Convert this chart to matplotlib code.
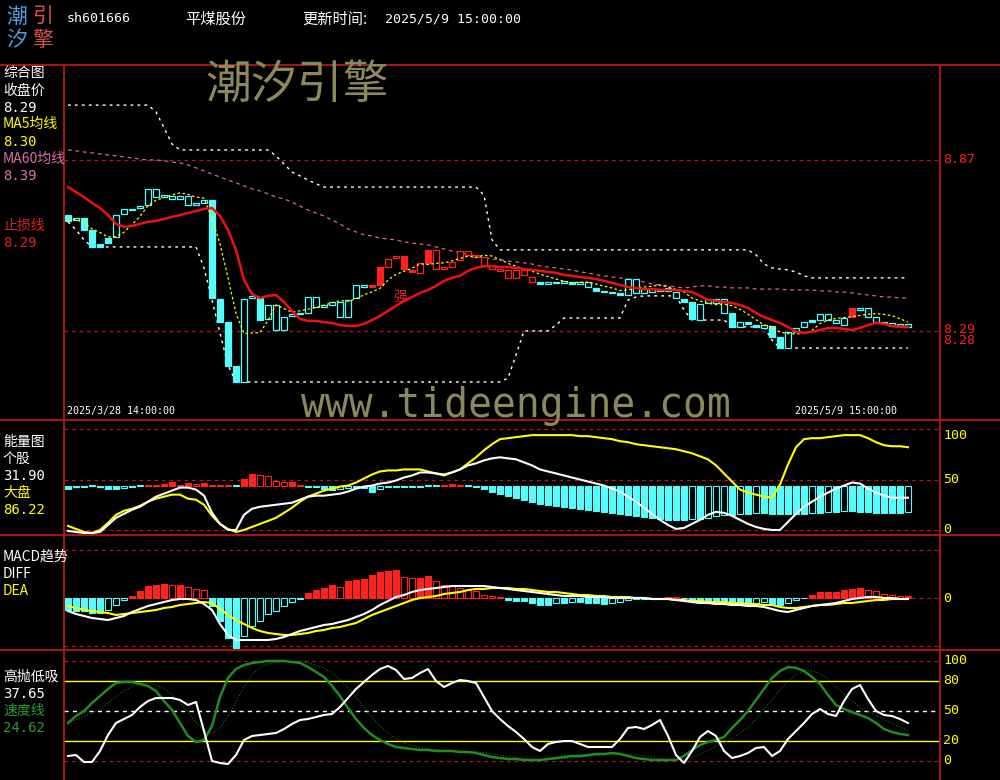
import numpy as np
import pandas as pd
import matplotlib
matplotlib.use("Agg")
import matplotlib.pyplot as plt
from matplotlib.lines import Line2D

CJK = ['Noto Sans CJK SC', 'DejaVu Sans']
MONO = ['DejaVu Sans Mono']
plt.rcParams['font.family'] = CJK

# ---------------- data ----------------
code = 'sh601666'
name = '平煤股份'
update_time = '2025/5/9 15:00:00'
start_label = '2025/3/28 14:00:00'
end_label = '2025/5/9 15:00:00'

open_ = [8.683, 8.666, 8.673, 8.633, 8.585, 8.605, 8.609, 8.687, 8.701, 8.707,
         8.717, 8.744, 8.744, 8.738, 8.738, 8.717, 8.717, 8.724, 8.734, 8.398,
         8.320, 8.171, 8.117, 8.402, 8.402, 8.331, 8.293, 8.293, 8.341, 8.348,
         8.351, 8.371, 8.371, 8.378, 8.337, 8.337, 8.402, 8.439, 8.446, 8.507,
         8.507, 8.538, 8.544, 8.497, 8.487, 8.565, 8.500, 8.500, 8.507, 8.531,
         8.548, 8.541, 8.510, 8.500, 8.494, 8.470, 8.470, 8.480, 8.456, 8.456,
         8.449, 8.453, 8.453, 8.456, 8.449, 8.439, 8.436, 8.426, 8.422, 8.419,
         8.412, 8.419, 8.419, 8.422, 8.426, 8.426, 8.402, 8.398, 8.388, 8.327,
         8.385, 8.385, 8.351, 8.351, 8.304, 8.320, 8.310, 8.300, 8.307, 8.270,
         8.232, 8.287, 8.304, 8.327, 8.327, 8.327, 8.317, 8.310, 8.368, 8.361,
         8.337, 8.320, 8.317, 8.307, 8.307, 8.304]
close = [8.663, 8.673, 8.633, 8.575, 8.575, 8.588, 8.683, 8.704, 8.704, 8.714,
         8.772, 8.772, 8.751, 8.748, 8.748, 8.748, 8.724, 8.734, 8.402, 8.320,
         8.171, 8.117, 8.398, 8.409, 8.327, 8.378, 8.378, 8.337, 8.348, 8.351,
         8.405, 8.405, 8.378, 8.388, 8.388, 8.395, 8.446, 8.446, 8.439, 8.446,
         8.534, 8.544, 8.500, 8.490, 8.521, 8.521, 8.565, 8.507, 8.524, 8.561,
         8.561, 8.548, 8.541, 8.510, 8.500, 8.497, 8.497, 8.497, 8.473, 8.449,
         8.456, 8.456, 8.459, 8.449, 8.456, 8.456, 8.426, 8.422, 8.419, 8.412,
         8.466, 8.466, 8.432, 8.432, 8.432, 8.436, 8.422, 8.388, 8.331, 8.381,
         8.398, 8.398, 8.398, 8.304, 8.320, 8.314, 8.304, 8.310, 8.270, 8.232,
         8.287, 8.300, 8.320, 8.320, 8.348, 8.348, 8.327, 8.334, 8.337, 8.368,
         8.368, 8.337, 8.320, 8.317, 8.314, 8.314]
# 1 = strong (red) state, 0 = normal (cyan)
strong = [0] * 38 + [1] * 21 + [0] * 39 + [1] + [0] * 7

stop_line = [8.778, 8.761, 8.744, 8.724, 8.707, 8.683, 8.653, 8.643, 8.646, 8.653,
             8.660, 8.663, 8.670, 8.677, 8.683, 8.690, 8.697, 8.704, 8.707, 8.680,
             8.633, 8.565, 8.463, 8.415, 8.402, 8.409, 8.412, 8.388, 8.358, 8.331,
             8.324, 8.324, 8.320, 8.317, 8.310, 8.307, 8.307, 8.314, 8.327, 8.341,
             8.358, 8.375, 8.392, 8.405, 8.419, 8.429, 8.443, 8.460, 8.470, 8.477,
             8.494, 8.504, 8.510, 8.510, 8.507, 8.507, 8.504, 8.500, 8.497, 8.494,
             8.490, 8.487, 8.480, 8.477, 8.473, 8.470, 8.466, 8.460, 8.453, 8.446,
             8.439, 8.436, 8.432, 8.432, 8.429, 8.429, 8.429, 8.426, 8.422, 8.409,
             8.395, 8.392, 8.388, 8.385, 8.378, 8.368, 8.351, 8.337, 8.327, 8.317,
             8.304, 8.287, 8.283, 8.287, 8.293, 8.300, 8.300, 8.297, 8.293, 8.300,
             8.310, 8.317, 8.314, 8.307, 8.304, 8.304]
ma60 = [8.904, 8.901, 8.897, 8.894, 8.890, 8.887, 8.884, 8.880, 8.877, 8.873,
        8.870, 8.870, 8.867, 8.863, 8.860, 8.853, 8.843, 8.833, 8.822, 8.812,
        8.802, 8.792, 8.782, 8.772, 8.765, 8.755, 8.744, 8.738, 8.727, 8.714,
        8.700, 8.690, 8.680, 8.666, 8.653, 8.636, 8.626, 8.616, 8.612, 8.605,
        8.602, 8.599, 8.592, 8.588, 8.585, 8.582, 8.575, 8.568, 8.561, 8.555,
        8.551, 8.544, 8.538, 8.534, 8.531, 8.527, 8.524, 8.521, 8.517, 8.510,
        8.507, 8.504, 8.500, 8.497, 8.490, 8.487, 8.480, 8.477, 8.473, 8.470,
        8.466, 8.463, 8.456, 8.449, 8.446, 8.443, 8.439, 8.436, 8.439, 8.443,
        8.443, 8.439, 8.439, 8.436, 8.436, 8.436, 8.432, 8.432, 8.432, 8.432,
        8.429, 8.429, 8.429, 8.429, 8.426, 8.426, 8.422, 8.422, 8.419, 8.415,
        8.412, 8.409, 8.405, 8.405, 8.402, 8.402]
band_upper = [9.056, 9.056, 9.056, 9.056, 9.056, 9.056, 9.056, 9.056, 9.056, 9.056,
              9.056, 9.033, 8.979, 8.924, 8.904, 8.904, 8.904, 8.904, 8.904, 8.904,
              8.904, 8.904, 8.904, 8.904, 8.904, 8.904, 8.884, 8.856, 8.829, 8.816,
              8.802, 8.789, 8.778, 8.778, 8.778, 8.778, 8.778, 8.778, 8.778, 8.778,
              8.778, 8.778, 8.778, 8.778, 8.778, 8.778, 8.778, 8.778, 8.778, 8.778,
              8.778, 8.778, 8.751, 8.599, 8.565, 8.565, 8.565, 8.565, 8.565, 8.565,
              8.565, 8.565, 8.565, 8.565, 8.565, 8.565, 8.565, 8.565, 8.565, 8.565,
              8.565, 8.565, 8.565, 8.565, 8.565, 8.565, 8.565, 8.565, 8.565, 8.565,
              8.565, 8.565, 8.565, 8.565, 8.565, 8.565, 8.548, 8.517, 8.504, 8.500,
              8.497, 8.490, 8.477, 8.470, 8.470, 8.470, 8.470, 8.470, 8.470, 8.470,
              8.470, 8.470, 8.470, 8.470, 8.470, 8.470]
band_lower = [8.660, 8.633, 8.599, 8.575, 8.575, 8.575, 8.575, 8.575, 8.575, 8.575,
              8.575, 8.575, 8.575, 8.575, 8.575, 8.575, 8.575, 8.504, 8.395, 8.283,
              8.174, 8.117, 8.117, 8.117, 8.117, 8.117, 8.117, 8.117, 8.117, 8.117,
              8.117, 8.117, 8.117, 8.117, 8.117, 8.117, 8.117, 8.117, 8.117, 8.117,
              8.117, 8.117, 8.117, 8.117, 8.117, 8.117, 8.117, 8.117, 8.117, 8.117,
              8.117, 8.117, 8.117, 8.117, 8.117, 8.130, 8.208, 8.290, 8.290, 8.290,
              8.290, 8.310, 8.334, 8.334, 8.334, 8.334, 8.334, 8.334, 8.334, 8.334,
              8.395, 8.405, 8.409, 8.409, 8.409, 8.409, 8.409, 8.361, 8.327, 8.327,
              8.327, 8.327, 8.327, 8.307, 8.304, 8.304, 8.304, 8.304, 8.259, 8.232,
              8.232, 8.232, 8.232, 8.232, 8.232, 8.232, 8.232, 8.232, 8.232, 8.232,
              8.232, 8.232, 8.232, 8.232, 8.232, 8.232]
price_levels = [8.87, 8.29]
low_label = '8.28'
strong_mark_pos = (41.5, 8.405)

# legend read-outs shown at the left
close_value = '8.29'
ma5_value = '8.30'
ma60_value = '8.39'
stop_value = '8.29'
stock_value = '31.90'
market_value = '86.22'
hp_value = '37.65'
speed_value = '24.62'

energy_stock = [-1, -2, -3, -3, -2, 5, 12, 16, 20, 23,
                28, 33, 36, 39, 42, 42, 40, 34, 17, 6,
                0, 0, 15, 21, 23, 24, 25, 26, 27, 30,
                33, 34, 34, 35, 36, 38, 41, 43, 44, 46,
                47, 49, 52, 54, 57, 57, 56, 55, 57, 60,
                64, 66, 69, 71, 72, 71, 70, 67, 64, 60,
                58, 56, 54, 52, 50, 48, 46, 44, 41, 38,
                33, 28, 22, 16, 10, 5, 1, 2, 6, 10,
                15, 18, 17, 14, 10, 6, 3, 1, 0, 0,
                8, 16, 23, 28, 33, 37, 41, 44, 47, 46,
                41, 37, 34, 32, 32, 32]
energy_market = [4, 1, -2, -3, 0, 7, 15, 19, 21, 24,
                 28, 31, 33, 35, 35, 31, 30, 25, 14, 6,
                 1, -2, 0, 3, 6, 9, 12, 17, 22, 28,
                 33, 36, 39, 41, 43, 44, 47, 51, 55, 58,
                 59, 59, 60, 60, 60, 58, 56, 54, 57, 60,
                 66, 72, 79, 85, 90, 91, 92, 93, 94, 94,
                 94, 94, 94, 94, 93, 93, 92, 91, 90, 88,
                 87, 85, 84, 83, 82, 81, 80, 78, 76, 73,
                 70, 64, 56, 48, 40, 37, 35, 33, 32, 45,
                 65, 82, 90, 91, 91, 92, 93, 94, 94, 94,
                 91, 87, 84, 83, 83, 82]
energy_hist = [-3, -1, -1, 0, -1, -3, -3, -2, -1, 0,
               1, 1, 2, 4, 1, 3, 2, 3, 1, 1,
               1, 0, 7, 11, 10, 9, 5, 4, 4, 1,
               -1, -1, -3, -4, -3, -2, -2, -2, -6, -3,
               -1, -1, -1, -1, -1, 0, 0, 1, 2, 1,
               0, -1, -3, -6, -8, -10, -12, -14, -16, -18,
               -19, -20, -21, -22, -23, -24, -25, -26, -27, -28,
               -29, -30, -31, -32, -33, -34, -34, -34, -33, -33,
               -32, -30, -29, -29, -28, -28, -27, -27, -28, -28,
               -28, -28, -28, -27, -27, -26, -26, -25, -25, -26,
               -26, -27, -27, -27, -27, -26]
energy_hist_base = 44
energy_levels = [100, 50, 0]

macd_diff = [-0.026, -0.032, -0.036, -0.040, -0.042, -0.044, -0.040, -0.036, -0.028, -0.022,
             -0.016, -0.012, -0.008, -0.004, -0.002, -0.002, -0.004, -0.012, -0.024, -0.052,
             -0.074, -0.084, -0.084, -0.084, -0.084, -0.084, -0.082, -0.078, -0.072, -0.066,
             -0.062, -0.058, -0.054, -0.052, -0.048, -0.044, -0.038, -0.032, -0.024, -0.014,
             -0.006, 0.002, 0.006, 0.012, 0.016, 0.018, 0.020, 0.022, 0.024, 0.024,
             0.024, 0.024, 0.024, 0.022, 0.020, 0.018, 0.016, 0.014, 0.012, 0.010,
             0.008, 0.006, 0.004, 0.004, 0.004, 0.002, 0.002, 0.002, 0.000, 0.000,
             0.000, 0.000, 0.000, -0.002, -0.002, -0.002, -0.004, -0.006, -0.008, -0.010,
             -0.010, -0.012, -0.012, -0.014, -0.014, -0.016, -0.016, -0.018, -0.022, -0.026,
             -0.028, -0.024, -0.020, -0.016, -0.014, -0.012, -0.010, -0.006, -0.002, 0.000,
             0.002, 0.002, 0.000, 0.000, -0.002, -0.002]
macd_dea = [-0.016, -0.020, -0.024, -0.026, -0.028, -0.030, -0.034, -0.032, -0.030, -0.028,
            -0.026, -0.024, -0.020, -0.018, -0.014, -0.012, -0.010, -0.008, -0.010, -0.022,
            -0.034, -0.044, -0.052, -0.060, -0.066, -0.070, -0.072, -0.074, -0.074, -0.072,
            -0.070, -0.066, -0.064, -0.060, -0.058, -0.054, -0.050, -0.042, -0.034, -0.028,
            -0.022, -0.016, -0.010, -0.004, 0.000, 0.002, 0.004, 0.008, 0.010, 0.012,
            0.016, 0.018, 0.018, 0.020, 0.020, 0.020, 0.018, 0.018, 0.016, 0.014,
            0.012, 0.012, 0.010, 0.008, 0.006, 0.006, 0.004, 0.004, 0.002, 0.002,
            0.002, 0.000, 0.000, -0.002, -0.002, -0.002, -0.004, -0.004, -0.006, -0.006,
            -0.008, -0.008, -0.008, -0.010, -0.010, -0.012, -0.012, -0.014, -0.014, -0.018,
            -0.020, -0.020, -0.018, -0.016, -0.014, -0.014, -0.012, -0.010, -0.010, -0.008,
            -0.006, -0.004, -0.004, -0.002, -0.002, -0.002]
macd_hist = [-0.024, -0.026, -0.026, -0.030, -0.030, -0.024, -0.014, -0.004, 0.004, 0.014,
             0.024, 0.026, 0.028, 0.026, 0.026, 0.022, 0.018, 0.016, -0.016, -0.046,
             -0.080, -0.100, -0.076, -0.056, -0.046, -0.032, -0.026, -0.016, -0.008, -0.002,
             0.010, 0.016, 0.020, 0.026, 0.022, 0.034, 0.036, 0.038, 0.046, 0.052,
             0.054, 0.056, 0.042, 0.040, 0.040, 0.044, 0.034, 0.026, 0.024, 0.020,
             0.016, 0.014, 0.006, 0.004, 0.002, -0.004, -0.006, -0.006, -0.010, -0.014,
             -0.014, -0.010, -0.010, -0.008, -0.008, -0.010, -0.010, -0.012, -0.010, -0.008,
             -0.004, -0.002, -0.002, 0.000, 0.000, 0.002, 0.002, 0.000, -0.004, -0.006,
             -0.008, -0.008, -0.010, -0.010, -0.012, -0.012, -0.010, -0.008, -0.012, -0.014,
             -0.010, -0.004, 0.000, 0.006, 0.012, 0.012, 0.012, 0.016, 0.018, 0.020,
             0.016, 0.014, 0.008, 0.006, 0.004, 0.004]
macd_levels = [0.096, 0.0, -0.096]

hp_line = [5, 6, -1, -1, 10, 26, 38, 42, 46, 54,
           60, 63, 63, 63, 61, 56, 59, 30, 0, -2,
           -3, 6, 21, 25, 26, 27, 28, 32, 37, 41,
           42, 44, 46, 47, 54, 63, 72, 79, 86, 92,
           95, 91, 82, 83, 88, 92, 80, 74, 78, 81,
           80, 78, 64, 50, 42, 35, 29, 22, 14, 10,
           17, 19, 20, 20, 17, 14, 14, 14, 14, 22,
           33, 34, 32, 36, 41, 25, 6, -2, 10, 24,
           30, 25, 10, 3, 5, 8, 13, 14, 5, 10,
           22, 30, 38, 47, 52, 47, 45, 60, 72, 76,
           62, 50, 46, 45, 42, 38]
speed_line = [38, 45, 50, 58, 65, 72, 78, 79, 79, 77,
              75, 70, 60, 51, 38, 25, 19, 21, 35, 64,
              83, 92, 96, 98, 99, 100, 100, 100, 99, 98,
              94, 89, 84, 75, 65, 53, 42, 33, 26, 21,
              17, 14, 13, 12, 11, 11, 10, 10, 10, 9,
              9, 8, 6, 4, 3, 2, 2, 1, 1, 1,
              2, 3, 4, 5, 5, 6, 7, 7, 8, 7,
              5, 3, 2, 1, 1, 1, 1, 5, 11, 16,
              19, 21, 24, 33, 41, 50, 61, 72, 83, 90,
              94, 93, 90, 84, 77, 66, 56, 52, 49, 46,
              43, 38, 32, 29, 27, 26]
hp_red_levels = [100, 0]
hp_yellow_levels = [80, 20]
hp_mid_level = 50

# ---------------- style ----------------
BG = 'black'
CYAN = '#54FCFC'
RED = '#FF2020'
BORDER = '#C81818'
GRID = '#B41414'
YELLOW = '#FFFF00'
PINK = '#D2679B'
GREEN = '#218C21'
OLIVE = '#8A895C'
W, H = 1000, 780

fig = plt.figure(figsize=(W / 100, H / 100), dpi=100, facecolor=BG)


def box(top, bottom):
    return [64 / W, 1 - bottom / H, (940 - 64) / W, (bottom - top) / H]


ax1 = fig.add_axes(box(65, 420))
ax2 = fig.add_axes(box(420, 535))
ax3 = fig.add_axes(box(535, 650))
ax4 = fig.add_axes(box(650, 780))
n = len(close)
x = np.arange(n)
for ax in (ax1, ax2, ax3, ax4):
    ax.set_axis_off()
    ax.set_xlim(-0.5, 109)
ax1.set_ylim(7.988, 9.192)
ax2.set_ylim(-5, 109)
ax3.set_ylim(-0.104, 0.126)
ax4.set_ylim(-19, 111)

dash = (0, (3, 3))

# ---- panel 1 ----
for lv in price_levels:
    ax1.axhline(lv, color=GRID, lw=0.9, ls=dash, zorder=1)
ax1.plot(x, ma60, color=PINK, lw=0.9, ls=(0, (3, 3)), zorder=2)
ax1.plot(x, band_upper, color='white', lw=1.0, ls=(0, (2, 3)), zorder=2)
ax1.plot(x, band_lower, color='white', lw=1.0, ls=(0, (2, 3)), zorder=2)

o = np.array(open_)
c = np.array(close)
cols = np.where(np.array(strong) == 1, RED, CYAN)
filled = c < o
body_lo = np.minimum(o, c)
body_h = np.maximum(np.abs(c - o), 0.003)
faces = [cl if f else BG for cl, f in zip(cols, filled)]
ax1.bar(x, body_h, bottom=body_lo, width=0.72, color=faces, edgecolor=cols,
        linewidth=0.9, zorder=3)

ma5 = pd.Series(close).rolling(5, min_periods=1).mean()
ax1.plot(x, ma5, color=YELLOW, lw=0.9, ls=(0, (2, 2)), zorder=4)
ax1.plot(x, stop_line, color='#F01010', lw=1.8, zorder=5)

ax1.text(strong_mark_pos[0], strong_mark_pos[1], '强', color='#E02828', fontsize=10,
         ha='center', va='center', zorder=6)

# ---- panel 2 ----
for lv in energy_levels:
    ax2.axhline(lv, color=GRID, lw=0.9, ls=dash, zorder=1)
eh = np.array(energy_hist, dtype=float)
ecol = np.where(eh > 0, RED, CYAN)
prev = np.concatenate([[0], np.abs(eh[:-1])])
efill = np.abs(eh) >= prev
eface = [cl if f else BG for cl, f in zip(ecol, efill)]
eh_draw = np.where(np.abs(eh) < 0.8, np.where(eh >= 0, 0.8, -0.8), eh)
ax2.bar(x, eh_draw, bottom=energy_hist_base, width=0.72, color=eface,
        edgecolor=ecol, linewidth=0.8, zorder=2)
ax2.plot(x, energy_market, color=YELLOW, lw=1.5, zorder=3)
ax2.plot(x, energy_stock, color='white', lw=1.5, zorder=4)

# ---- panel 3 ----
for lv in macd_levels:
    ax3.axhline(lv, color=GRID, lw=0.9, ls=dash, zorder=1)
mh = np.array(macd_hist)
mcol = np.where(mh > 0, RED, CYAN)
mprev = np.concatenate([[0], np.abs(mh[:-1])])
mfill = np.abs(mh) >= mprev
mface = [cl if f else BG for cl, f in zip(mcol, mfill)]
ax3.bar(x, mh, width=0.72, color=mface, edgecolor=mcol, linewidth=0.8, zorder=2)
ax3.plot(x, macd_dea, color=YELLOW, lw=1.5, zorder=3)
ax3.plot(x, macd_diff, color='white', lw=1.5, zorder=4)

# ---- panel 4 ----
for lv in hp_red_levels:
    ax4.axhline(lv, color=GRID, lw=0.9, ls=dash, zorder=1)
for lv in hp_yellow_levels:
    ax4.axhline(lv, color=YELLOW, lw=1.0, zorder=1)
ax4.axhline(hp_mid_level, color='white', lw=1.0, ls=dash, zorder=1)
speed_ma = pd.Series(speed_line).rolling(5, min_periods=1).mean()
ax4.plot(x, speed_ma, color=GREEN, lw=0.7, ls=(0, (1, 2)), zorder=2)
ax4.plot(x, speed_line, color=GREEN, lw=1.8, zorder=3)
ax4.plot(x, hp_line, color='white', lw=1.5, zorder=4)

# ---- borders ----
for yy in (65, 420, 535, 650):
    fig.add_artist(Line2D([0, 1], [1 - yy / H] * 2, color=BORDER, lw=1.2))
for xx in (64, 940):
    fig.add_artist(Line2D([xx / W] * 2, [0, 1 - 65 / H], color=BORDER, lw=1.2))


# ---- right-hand labels ----
def rlabel(ax, val, txt, color, dy=0):
    ax.annotate(txt, xy=(1, val), xycoords=ax.get_yaxis_transform(),
                xytext=(2.5, dy), textcoords='offset points', color=color,
                fontsize=9.5, family=MONO, va='center', ha='left',
                annotation_clip=False)


rlabel(ax1, price_levels[0], f'{price_levels[0]:.2f}', RED)
rlabel(ax1, price_levels[1], f'{price_levels[1]:.2f}', RED, dy=1)
rlabel(ax1, price_levels[1], low_label, RED, dy=-7)
rlabel(ax2, 100, '100', YELLOW, dy=-4.5)
rlabel(ax2, 50, '50', YELLOW)
rlabel(ax2, 0, '0', YELLOW)
rlabel(ax3, 0, '0', YELLOW)
for lv in (100, 80, 50, 20, 0):
    rlabel(ax4, lv, str(lv), YELLOW)


# ---- figure texts ----
def ftext(px, py, s, color='white', size=10, family=CJK, **kw):
    fig.text(px / W, 1 - py / H, s, color=color, fontsize=size, family=family,
             va='center', **kw)


# logo
ftext(17, 17, '潮', '#4F9FD8', 15, ha='center')
ftext(17, 40, '汐', '#4F9FD8', 15, ha='center')
ftext(43, 17, '引', '#D85050', 15, ha='center')
ftext(43, 40, '擎', '#D85050', 15, ha='center')
# header
ftext(67, 19, code, 'white', 9.5, MONO)
ftext(185, 19, name, 'white', 11)
ftext(302, 19, '更新时间:', 'white', 11)
ftext(385, 19, update_time, 'white', 9.5, MONO)

# left labels
ftext(3, 73, '综合图')
ftext(3, 91, '收盘价')
ftext(3, 108, close_value, 'white', 10, MONO)
ftext(3, 124, 'MA5均线', YELLOW)
ftext(3, 142, ma5_value, YELLOW, 10, MONO)
ftext(3, 159, 'MA60均线', '#E070A8')
ftext(3, 176, ma60_value, '#E070A8', 10, MONO)
ftext(3, 226, '止损线', '#E02020')
ftext(3, 243, stop_value, '#E02020', 10, MONO)

ftext(3, 442, '能量图')
ftext(3, 459, '个股')
ftext(3, 476, stock_value, 'white', 10, MONO)
ftext(3, 493, '大盘', YELLOW)
ftext(3, 510, market_value, YELLOW, 10, MONO)

ftext(3, 557, 'MACD趋势')
ftext(3, 574, 'DIFF')
ftext(3, 591, 'DEA', YELLOW)

ftext(3, 677, '高抛低吸')
ftext(3, 694, hp_value, 'white', 10, MONO)
ftext(3, 711, '速度线', '#2E9A2E')
ftext(3, 728, speed_value, '#2E9A2E', 10, MONO)

# dates and watermarks
ftext(67, 411, start_label, 'white', 7.2, MONO)
ftext(897, 411, end_label, 'white', 7.2, MONO, ha='right')
ftext(297, 85, '潮汐引擎', OLIVE, 33, ha='center')
ftext(516, 406, 'www.tideengine.com', OLIVE, 28.5, MONO, ha='center')

fig.savefig('out.png', dpi=100, facecolor=BG)
